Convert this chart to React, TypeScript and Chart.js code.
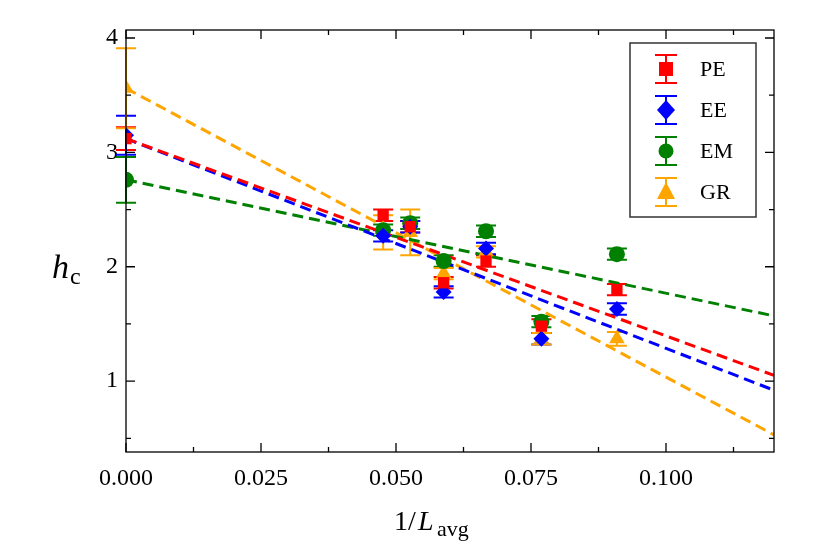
import React, { useEffect, useRef } from "react";
import { Chart, registerables } from "chart.js";
Chart.register(...registerables);

const X = [0, 1 / 21, 1 / 19, 1 / 17, 1 / 15, 1 / 13, 1 / 11];
const PE = [3.12, 2.45, 2.35, 1.86, 2.05, 1.48, 1.8];
const PE_ERR = [0.1, 0.05, 0.05, 0.05, 0.05, 0.06, 0.05];
const EE = [3.15, 2.27, 2.35, 1.78, 2.16, 1.37, 1.63];
const EE_ERR = [0.17, 0.05, 0.05, 0.05, 0.05, 0.05, 0.05];
const EM = [2.76, 2.32, 2.38, 2.05, 2.31, 1.52, 2.11];
const EM_ERR = [0.2, 0.05, 0.05, 0.05, 0.05, 0.05, 0.05];
const GR = [3.56, 2.3, 2.3, 1.94, 2.13, 1.37, 1.37];
const GR_ERR = [0.35, 0.15, 0.2, 0.05, 0.05, 0.05, 0.06];
const FIT_X = [0, 0.12];
const FIT_PE = [3.12, 1.05];
const FIT_EE = [3.12, 0.92];
const FIT_EM = [2.76, 1.57];
const FIT_GR = [3.56, 0.53];
const X_TICKS = [0, 0.025, 0.05, 0.075, 0.1];
const Y_TICKS = [1, 2, 3, 4];
const NAMES = ["PE", "EE", "EM", "GR"];
const COLORS = ["#ff0000", "#0000ff", "#008000", "#ffa500"];
const SHAPES = ["rect", "rectRot", "circle", "triangle"];
const FONT = "'Liberation Serif', 'DejaVu Serif', serif";

export default function App() {
  const ref = useRef<HTMLCanvasElement>(null);
  useEffect(() => {
    document.body.style.margin = "0";
    const series = [PE, EE, EM, GR];
    const errs = [PE_ERR, EE_ERR, EM_ERR, GR_ERR];
    const fits = [FIT_PE, FIT_EE, FIT_EM, FIT_GR];
    const datasets: any[] = [];
    fits.forEach((f, i) =>
      datasets.push({
        type: "line",
        data: FIT_X.map((x, j) => ({ x, y: f[j] })),
        borderColor: COLORS[i],
        borderWidth: 3,
        borderDash: [11, 6],
        pointRadius: 0,
        order: 5,
      })
    );
    series.forEach((s, i) =>
      datasets.push({
        type: "scatter",
        data: X.map((x, j) => ({ x, y: s[j] })),
        backgroundColor: COLORS[i],
        borderColor: COLORS[i],
        pointStyle: SHAPES[i],
        pointRadius: i === 3 ? 9 : 8,
        pointBorderWidth: 0,
        order: 1,
        errIdx: i,
      })
    );
    const plugin = {
      id: "deco",
      beforeDatasetsDraw(chart: any) {
        const { ctx, scales } = chart;
        const xs = scales.x, ys = scales.y;
        ctx.save();
        ctx.lineWidth = 2;
        series.forEach((s, i) => {
          ctx.strokeStyle = COLORS[i];
          X.forEach((x, j) => {
            const px = xs.getPixelForValue(x);
            const t = ys.getPixelForValue(s[j] + errs[i][j]);
            const b = ys.getPixelForValue(s[j] - errs[i][j]);
            ctx.beginPath();
            ctx.moveTo(px, t); ctx.lineTo(px, b);
            ctx.moveTo(px - 10, t); ctx.lineTo(px + 10, t);
            ctx.moveTo(px - 10, b); ctx.lineTo(px + 10, b);
            ctx.stroke();
          });
        });
        ctx.restore();
      },
      afterDraw(chart: any) {
        const { ctx, chartArea: a, scales } = chart;
        const xs = scales.x, ys = scales.y;
        ctx.save();
        ctx.strokeStyle = "#000";
        ctx.lineWidth = 1.3;
        ctx.strokeRect(a.left, a.top, a.right - a.left, a.bottom - a.top);
        ctx.beginPath();
        for (let v = 0; v <= 0.12 + 1e-9; v += 0.0125) {
          const px = xs.getPixelForValue(v);
          const major = Math.abs(v / 0.025 - Math.round(v / 0.025)) < 1e-6;
          const L = major ? 9 : 5;
          ctx.moveTo(px, a.bottom); ctx.lineTo(px, a.bottom - L);
          ctx.moveTo(px, a.top); ctx.lineTo(px, a.top + L);
        }
        for (let v = 0.5; v <= 4.05; v += 0.5) {
          const py = ys.getPixelForValue(v);
          const major = Math.abs(v - Math.round(v)) < 1e-6;
          const L = major ? 9 : 5;
          ctx.moveTo(a.left, py); ctx.lineTo(a.left + L, py);
          ctx.moveTo(a.right, py); ctx.lineTo(a.right - L, py);
        }
        ctx.stroke();
        // axis titles
        ctx.fillStyle = "#000";
        ctx.textBaseline = "alphabetic";
        ctx.font = `italic 34px ${FONT}`;
        ctx.fillText("h", 52, 278);
        ctx.font = `24px ${FONT}`;
        ctx.fillText("c", 70, 284);
        ctx.font = `28px ${FONT}`;
        ctx.fillText("1/", 394, 530);
        ctx.font = `italic 28px ${FONT}`;
        ctx.fillText("L", 418, 530);
        ctx.font = `22px ${FONT}`;
        ctx.fillText("avg", 437, 536);
        // legend
        ctx.fillStyle = "#fff";
        ctx.fillRect(630, 43, 126, 174);
        ctx.strokeStyle = "#333";
        ctx.lineWidth = 1.5;
        ctx.strokeRect(630, 43, 126, 174);
        NAMES.forEach((n, i) => {
          const cy = 69 + i * 41;
          const cx = 666;
          ctx.strokeStyle = COLORS[i];
          ctx.lineWidth = 2;
          ctx.beginPath();
          ctx.moveTo(cx, cy - 14); ctx.lineTo(cx, cy + 14);
          ctx.moveTo(cx - 11, cy - 14); ctx.lineTo(cx + 11, cy - 14);
          ctx.moveTo(cx - 11, cy + 14); ctx.lineTo(cx + 11, cy + 14);
          ctx.stroke();
          ctx.fillStyle = COLORS[i];
          ctx.beginPath();
          if (i === 0) ctx.rect(cx - 7, cy - 7, 14, 14);
          else if (i === 1) { ctx.moveTo(cx, cy - 10); ctx.lineTo(cx + 9, cy); ctx.lineTo(cx, cy + 10); ctx.lineTo(cx - 9, cy); }
          else if (i === 2) ctx.arc(cx, cy, 7.5, 0, Math.PI * 2);
          else { ctx.moveTo(cx, cy - 10); ctx.lineTo(cx + 9, cy + 7); ctx.lineTo(cx - 9, cy + 7); }
          ctx.closePath();
          ctx.fill();
          ctx.fillStyle = "#000";
          ctx.font = `22px ${FONT}`;
          ctx.textBaseline = "middle";
          ctx.fillText(n, 700, cy + 1);
        });
        ctx.restore();
      },
    };
    const chart = new Chart(ref.current!, {
      type: "scatter",
      data: { datasets },
      plugins: [plugin],
      options: {
        animation: false,
        responsive: false,
        devicePixelRatio: 1,
        layout: { padding: { left: 0, right: 45, top: 30, bottom: 0 } },
        plugins: { legend: { display: false }, tooltip: { enabled: false } },
        scales: {
          x: {
            type: "linear",
            min: 0,
            max: 0.12,
            afterBuildTicks: (s: any) => { s.ticks = X_TICKS.map((v) => ({ value: v })); },
            afterFit: (s: any) => { s.height = 106; },
            grid: { display: false, drawTicks: false },
            border: { display: false },
            ticks: { color: "#000", font: { family: FONT, size: 24 }, padding: 12, maxRotation: 0, callback: (v: any) => Number(v).toFixed(3) },
          },
          y: {
            type: "linear",
            min: 0.38,
            max: 4.07,
            afterBuildTicks: (s: any) => { s.ticks = Y_TICKS.map((v) => ({ value: v })); },
            afterFit: (s: any) => { s.width = 126; },
            grid: { display: false, drawTicks: false },
            border: { display: false },
            ticks: { color: "#000", font: { family: FONT, size: 24 }, padding: 8 },
          },
        },
      },
    } as any);
    return () => chart.destroy();
  }, []);
  return (
    <div style={{ width: 819, height: 558 }}>
      <canvas ref={ref} width={819} height={558} style={{ width: 819, height: 558, display: "block" }} />
    </div>
  );
}
